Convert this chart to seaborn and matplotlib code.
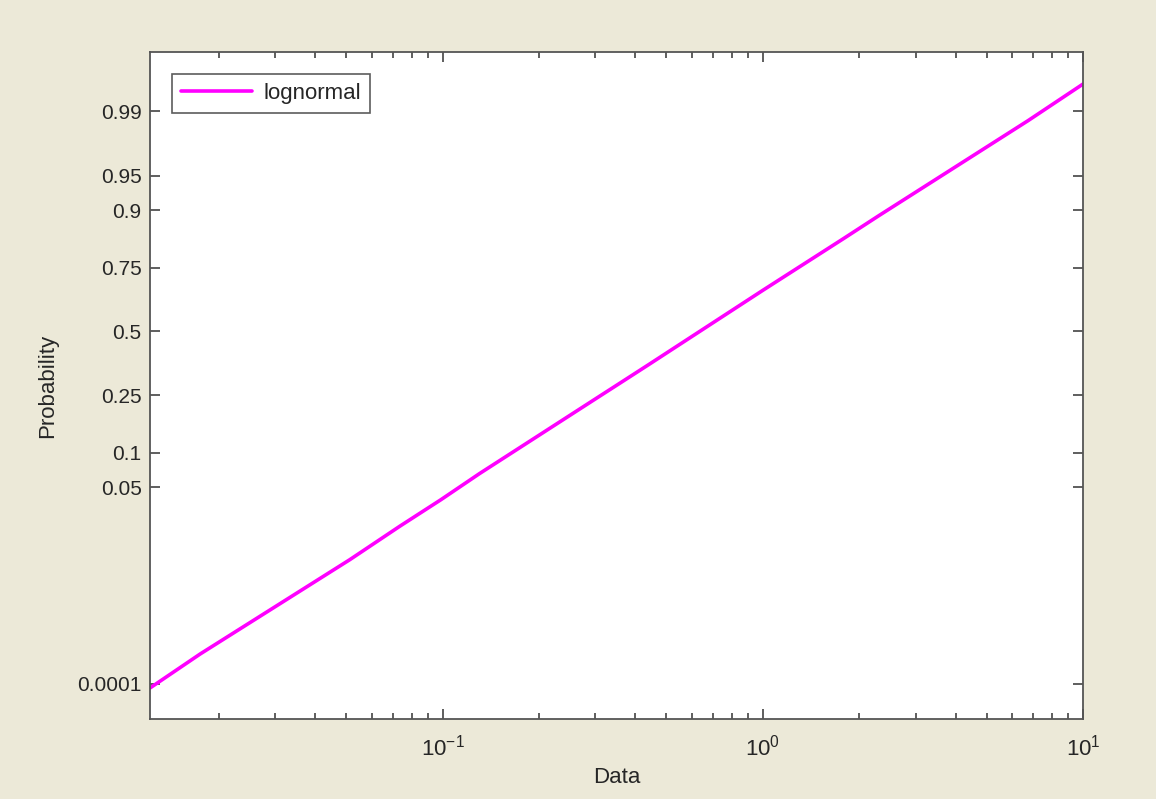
import numpy as np
import pandas as pd
import seaborn as sns
import matplotlib
matplotlib.use("Agg")
import matplotlib.pyplot as plt
from matplotlib.ticker import LogLocator, NullLocator, FixedLocator, FixedFormatter, NullFormatter
from statistics import NormalDist

# values (lognormal probability plot)
data_x = [0.0122, 0.0175, 0.0513, 0.0735, 0.0988, 0.1303, 0.308, 0.356,
          0.441, 1.0, 1.79, 2.30, 6.74, 10.0]
prob_y = [8.4e-5, 3.32e-4, 0.0080, 0.0199, 0.0379, 0.0667, 0.246, 0.291,
          0.364, 0.668, 0.837, 0.889, 0.987, 0.9955]
prob_ticks = [0.0001, 0.05, 0.1, 0.25, 0.5, 0.75, 0.9, 0.95, 0.99]
prob_labels = ["0.0001", "0.05", "0.1", "0.25", "0.5", "0.75", "0.9", "0.95", "0.99"]

df = pd.DataFrame({"Data": data_x, "Probability": prob_y})

_nd = NormalDist()


def probit(p):
    p = np.clip(np.asarray(p, dtype=float), 1e-12, 1 - 1e-12)
    return np.vectorize(_nd.inv_cdf)(p) if p.size else p


def inv_probit(z):
    z = np.asarray(z, dtype=float)
    return np.vectorize(_nd.cdf)(z) if z.size else z


sns.set_theme(style="white")
plt.rcParams["font.family"] = ["Liberation Sans", "DejaVu Sans"]

bg = "#ECE9D8"
txt = "#262626"
fig = plt.figure(figsize=(11.56, 7.99), dpi=100, facecolor=bg)
ax = fig.add_axes([0.1298, 0.1001, 0.8071, 0.8348])
ax.set_facecolor("white")

sns.lineplot(data=df, x="Data", y="Probability", ax=ax, color="#FF00FF",
             linewidth=2.6, sort=False, label="lognormal")

ax.set_xscale("log")
ax.set_yscale("function", functions=(probit, inv_probit))
ax.set_xlim(0.0122, 10)
ax.set_ylim(2.15e-5, 0.99841)

ax.yaxis.set_major_locator(FixedLocator(prob_ticks))
ax.yaxis.set_major_formatter(FixedFormatter(prob_labels))
ax.yaxis.set_minor_locator(NullLocator())
ax.xaxis.set_major_locator(LogLocator(base=10))
ax.xaxis.set_minor_locator(LogLocator(base=10, subs=np.arange(2, 10)))
ax.xaxis.set_minor_formatter(NullFormatter())

ax.tick_params(which="both", direction="in", top=True, right=True, left=True,
               bottom=True, colors="#333333", labelcolor=txt, width=1.1)
ax.tick_params(which="major", length=7)
ax.tick_params(which="minor", length=4)
ax.tick_params(axis="x", pad=11, labelsize=16)
ax.tick_params(axis="y", pad=6, labelsize=15)

for s in ax.spines.values():
    s.set_color("#555555")
    s.set_linewidth(1.3)

ax.set_xlabel("Data", fontsize=16, color=txt, labelpad=5)
ax.set_ylabel("Probability", fontsize=16, color=txt, labelpad=14)

leg = ax.legend(loc="upper left", fontsize=16, frameon=True, fancybox=False,
                borderaxespad=1.0, handlelength=3.2, borderpad=0.4,
                handletextpad=0.5)
leg.get_frame().set_edgecolor("#333333")
leg.get_frame().set_linewidth(1.2)
for t in leg.get_texts():
    t.set_color(txt)

fig.savefig("out.png", dpi=100, facecolor=bg)
